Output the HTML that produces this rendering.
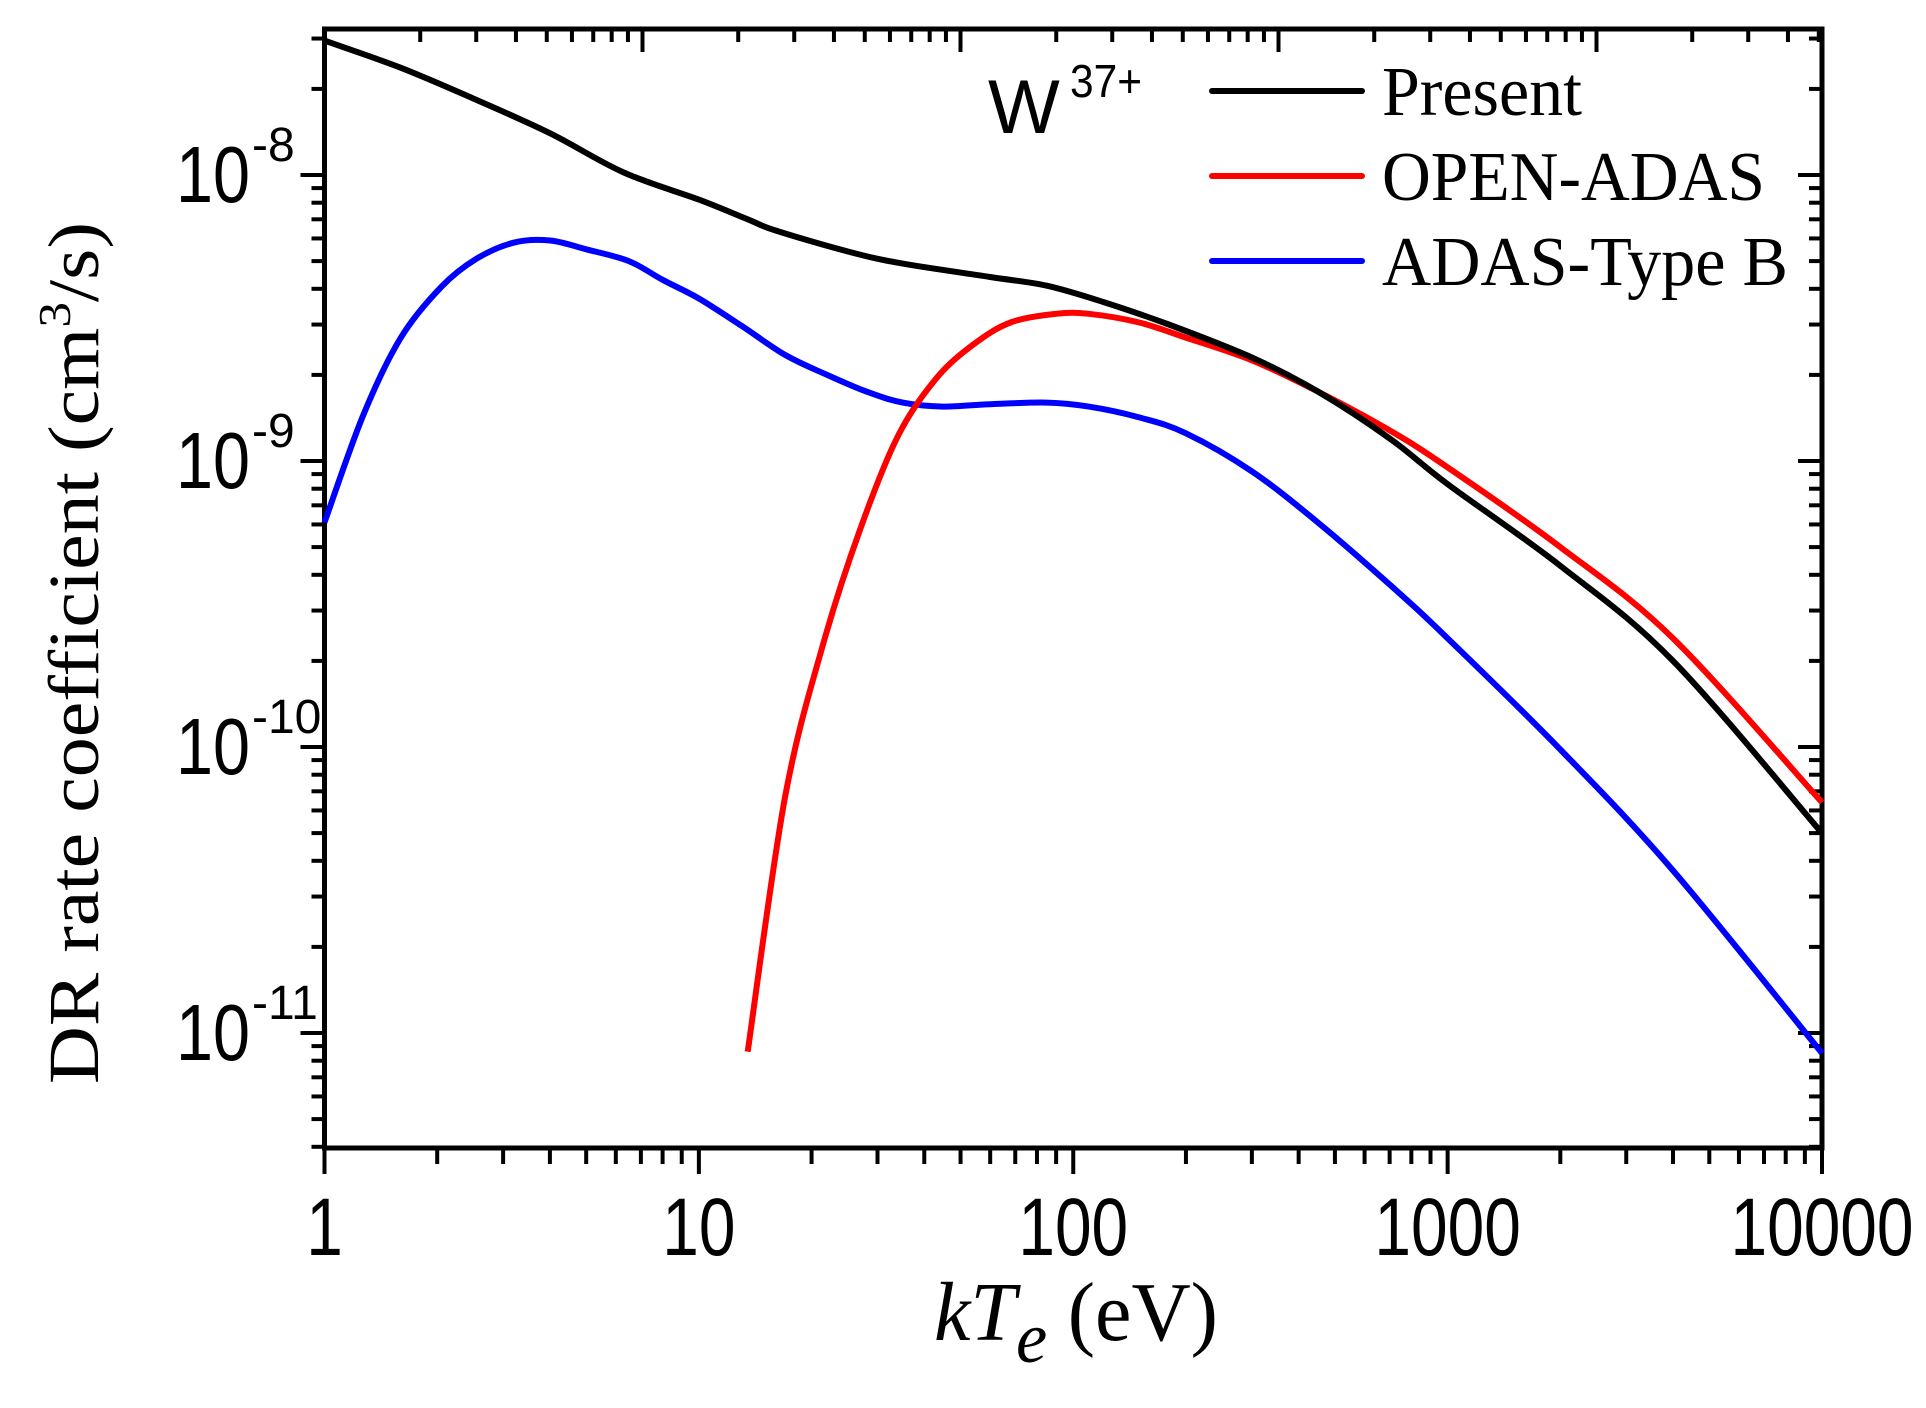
<!DOCTYPE html>
<html><head><meta charset="utf-8"><style>html,body{margin:0;padding:0;background:#fff}svg{display:block}</style></head>
<body>
<svg id="chart" xmlns="http://www.w3.org/2000/svg" width="1926" height="1408" viewBox="0 0 1926 1408">
<rect width="1926" height="1408" fill="#fff"/>
<g id="axes"></g>
<g id="series"></g>
<g id="legend">
 <text x="988" y="133" font-family="Liberation Sans, sans-serif" font-size="76">W</text>
 <text x="1070" y="97" font-family="Liberation Sans, sans-serif" font-size="46" textLength="72" lengthAdjust="spacingAndGlyphs">37+</text>
 <line x1="1212" y1="91" x2="1362" y2="91" stroke="#000" stroke-width="6" stroke-linecap="round"/>
 <line x1="1212" y1="176" x2="1362" y2="176" stroke="#ff0000" stroke-width="6" stroke-linecap="round"/>
 <line x1="1212" y1="261" x2="1362" y2="261" stroke="#0000ff" stroke-width="6" stroke-linecap="round"/>
 <text x="1382" y="115" font-family="Liberation Serif, serif" font-size="70" textLength="200" lengthAdjust="spacingAndGlyphs">Present</text>
 <text x="1382" y="200" font-family="Liberation Serif, serif" font-size="70" textLength="383" lengthAdjust="spacingAndGlyphs">OPEN-ADAS</text>
 <text x="1382" y="285" font-family="Liberation Serif, serif" font-size="70" textLength="406" lengthAdjust="spacingAndGlyphs">ADAS-Type B</text>
</g>
<text transform="translate(98,653) rotate(-90)" text-anchor="middle" font-family="Liberation Serif, serif" font-size="72" textLength="862" lengthAdjust="spacingAndGlyphs">DR rate coefficient (cm<tspan font-size="46" dy="-28">3</tspan><tspan dy="28">/s)</tspan></text>
<text x="934" y="1340" font-family="Liberation Serif, serif" font-size="84" textLength="284" lengthAdjust="spacingAndGlyphs"><tspan font-style="italic">kT</tspan><tspan font-style="italic" font-size="72" dy="22">e</tspan><tspan dy="-22"> (eV)</tspan></text>
</svg>
<script>
const xTicks = [1, 10, 100, 1000, 10000];
const xTickLabels = ["1", "10", "100", "1000", "10000"];
const yTickExps = [-8, -9, -10, -11];
const presentX = [1, 1.6, 2.5, 4, 6.3, 10, 13.5, 16, 25, 35, 60, 85, 120, 180, 300, 450, 700, 1000, 2000, 4000, 10000];
const presentY = [2.95e-8, 2.37e-8, 1.85e-8, 1.40e-8, 1.02e-8, 8.2e-9, 7.0e-9, 6.4e-9, 5.4e-9, 4.9e-9, 4.4e-9, 4.1e-9, 3.6e-9, 3.0e-9, 2.3e-9, 1.75e-9, 1.2e-9, 8.3e-10, 4.3e-10, 2.0e-10, 5.0e-11];
const openX = [13.5, 17, 21.5, 27, 34, 43, 54, 68, 90, 110, 150, 200, 300, 450, 700, 1000, 2000, 4000, 10000];
const openY = [8.6e-12, 6.7e-11, 2.3e-10, 5.8e-10, 1.22e-9, 1.94e-9, 2.55e-9, 3.05e-9, 3.27e-9, 3.27e-9, 3.05e-9, 2.7e-9, 2.25e-9, 1.75e-9, 1.28e-9, 9.5e-10, 5.0e-10, 2.4e-10, 6.4e-11];
const typeBX = [1, 1.27, 1.6, 2.05, 2.55, 3.2, 4, 5, 6.5, 8, 10, 13, 17, 22, 28, 35, 45, 60, 85, 110, 150, 200, 300, 450, 700, 1000, 2000, 4000, 10000];
const typeBY = [6.1e-10, 1.45e-9, 2.7e-9, 4.06e-9, 5.1e-9, 5.8e-9, 5.9e-9, 5.5e-9, 5.0e-9, 4.3e-9, 3.7e-9, 2.97e-9, 2.35e-9, 2.0e-9, 1.75e-9, 1.6e-9, 1.55e-9, 1.58e-9, 1.6e-9, 1.55e-9, 1.42e-9, 1.25e-9, 9.2e-10, 6.1e-10, 3.7e-10, 2.4e-10, 9.8e-11, 3.7e-11, 8.5e-12];

const NS = "http://www.w3.org/2000/svg";
const L = 324.5, R = 1822, T = 29, B = 1148;
const yTopLog = -8 + (175 - T) / 286, yBotLog = -11 - (B - 1033) / 286;
function sx(v){ return L + Math.log10(v) / 4 * (R - L); }
function sy(v){ return T + (yTopLog - Math.log10(v)) / (yTopLog - yBotLog) * (B - T); }
function mk(tag, attrs, parent){ const e = document.createElementNS(NS, tag); for (const k in attrs) e.setAttribute(k, attrs[k]); parent.appendChild(e); return e; }

const axes = document.getElementById('axes');
const frame = mk('rect', {x:L, y:T, width:R-L, height:B-T, fill:'none', stroke:'#000', 'stroke-width':5}, axes);



for (let d = 0; d < 4; d++) for (let m = 1; m <= 9; m++) {
  const v = Math.pow(10, d) * m, x = sx(v);
  const t = mk('line', {x1:x, y1:B, x2:x, y2:B + (m === 1 ? 26 : 16), stroke:'#000', 'stroke-width':4}, axes);
  
  
}
const xe = mk('line', {x1:R, y1:B, x2:R, y2:B+26, stroke:'#000', 'stroke-width':4}, axes);


const topDec = 318;
for (let d = 0; d < 5; d++) for (let m = 1; m <= 9; m++) {
  const x = L + topDec * (d + Math.log10(m));
  if (x > R - 2) continue;
  const t = mk('line', {x1:x, y1:T, x2:x, y2:T + (m === 1 ? 23 : 13), stroke:'#000', 'stroke-width':4}, axes);
  
  
}
xTicks.forEach((v, i) => {
  const s = xTickLabels[i];
  const t = mk('text', {x:sx(v), y:1255, 'text-anchor':'middle', 'font-family':'Liberation Sans, sans-serif', 'font-size':82, textLength:s.length*36.6, lengthAdjust:'spacingAndGlyphs'}, axes);
  t.textContent = s;
  
  
});
for (let e = -12; e <= -7; e++) for (let m = 1; m <= 9; m++) {
  const v = m * Math.pow(10, e), y = sy(v);
  if (y < T + 1 || y > B - 1) continue;
  const len = m === 1 ? 24 : 13;
  const a = mk('line', {x1:L - len, y1:y, x2:L, y2:y, stroke:'#000', 'stroke-width':4}, axes);
  
  
  const b = mk('line', {x1:R - len, y1:y, x2:R, y2:y, stroke:'#000', 'stroke-width':4}, axes);
  
  
}
yTickExps.forEach(e => {
  const y = sy(Math.pow(10, e));
  const t = mk('text', {x:250, y:y + 27, 'text-anchor':'end', 'font-family':'Liberation Sans, sans-serif', 'font-size':80, textLength:74, lengthAdjust:'spacingAndGlyphs'}, axes);
  t.textContent = '10';
  
  
  const s = mk('text', {x:252, y:y - 14, 'font-family':'Liberation Sans, sans-serif', 'font-size':48}, axes);
  s.textContent = String(e);
  
  
});

const series = document.getElementById('series');
function drawLine(xs, ys, color, name){
  const P = xs.map((x, i) => [sx(x), sy(ys[i])]);
  let d = 'M' + P[0][0].toFixed(1) + ' ' + P[0][1].toFixed(1);
  for (let i = 0; i < P.length - 1; i++) {
    const p0 = P[Math.max(0, i-1)], p1 = P[i], p2 = P[i+1], p3 = P[Math.min(P.length-1, i+2)];
    const c1 = [p1[0] + (p2[0]-p0[0])/6, p1[1] + (p2[1]-p0[1])/6];
    const c2 = [p2[0] - (p3[0]-p1[0])/6, p2[1] - (p3[1]-p1[1])/6];
    d += ' C' + c1[0].toFixed(1) + ' ' + c1[1].toFixed(1) + ' ' + c2[0].toFixed(1) + ' ' + c2[1].toFixed(1) + ' ' + p2[0].toFixed(1) + ' ' + p2[1].toFixed(1);
  }
  const p = mk('path', {d:d, fill:'none', stroke:color, 'stroke-width':6, 'stroke-linejoin':'round'}, series);
  
  
}
drawLine(typeBX, typeBY, '#0000ff', 'adas-type-b-line');
drawLine(openX, openY, '#ff0000', 'open-adas-line');
drawLine(presentX, presentY, '#000000', 'present-line');
</script>
</body></html>
